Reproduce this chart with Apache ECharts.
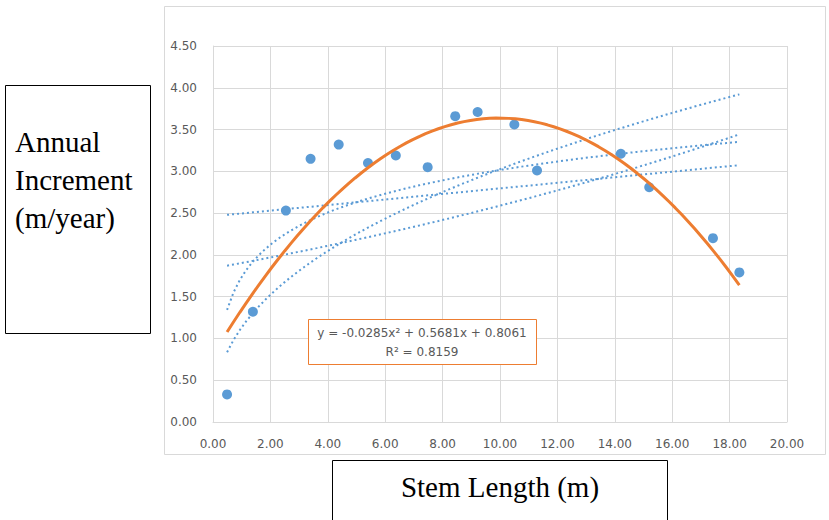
<!DOCTYPE html>
<html>
<head>
<meta charset="utf-8">
<script src="https://cdn.jsdelivr.net/npm/echarts@6/dist/echarts.min.js"></script>
<style>
html,body{margin:0;padding:0;background:#fff;}
#main{width:829px;height:520px;}
</style>
</head>
<body>
<div id="main"></div>
<script>
// 数据
var stemLength = [0.49, 1.39, 2.54, 3.40, 4.38, 5.40, 6.37, 7.48, 8.44, 9.22, 10.50, 11.29, 14.21, 15.20, 17.42, 18.34];
var increment  = [0.33, 1.32, 2.53, 3.15, 3.32, 3.10, 3.19, 3.05, 3.66, 3.71, 3.56, 3.01, 3.21, 2.81, 2.20, 1.79];

// 二次趋势线系数 a, b, c
var quadCoef = [-0.0285, 0.5681, 0.8061];
var eqLine1 = 'y = -0.0285x² + 0.5681x + 0.8061';
var eqLine2 = 'R² = 0.8159';

var yTitle = ['Annual', 'Increment', '(m/year)'];
var xTitle = 'Stem Length (m)';

var blue = '#5B9BD5';
var orange = '#ED7D31';

// 最小二乘 v = k*u + m
function lsq(u, v) {
    var n = u.length, su = 0, sv = 0, suu = 0, suv = 0;
    for (var i = 0; i < n; i++) {
        su += u[i]; sv += v[i]; suu += u[i] * u[i]; suv += u[i] * v[i];
    }
    var k = (n * suv - su * sv) / (n * suu - su * su);
    return [k, (sv - k * su) / n];
}

var lnx = stemLength.map(Math.log);
var lny = increment.map(Math.log);
var fLin = lsq(stemLength, increment);
var fExp = lsq(stemLength, lny);
var fLog = lsq(lnx, increment);
var fPow = lsq(lnx, lny);

var trends = [
    function (x) { return fLin[0] * x + fLin[1]; },
    function (x) { return Math.exp(fExp[1]) * Math.exp(fExp[0] * x); },
    function (x) { return fLog[0] * Math.log(x) + fLog[1]; },
    function (x) { return Math.exp(fPow[1]) * Math.pow(x, fPow[0]); }
];

var xMin = Math.min.apply(null, stemLength);
var xMax = Math.max.apply(null, stemLength);

function curve(f) {
    var pts = [];
    for (var i = 0; i <= 80; i++) {
        var x = xMin + (xMax - xMin) * i / 80;
        pts.push([x, f(x)]);
    }
    return pts;
}

var series = [{
    type: 'scatter',
    data: stemLength.map(function (x, i) { return [x, increment[i]]; }),
    symbolSize: 10,
    itemStyle: { color: blue, opacity: 1 },
    z: 2
}];

trends.forEach(function (f) {
    series.push({
        type: 'line',
        data: curve(f),
        showSymbol: false,
        smooth: false,
        lineStyle: { color: blue, width: 2, type: [2, 3] },
        z: 3
    });
});

series.push({
    type: 'line',
    data: curve(function (x) { return quadCoef[0] * x * x + quadCoef[1] * x + quadCoef[2]; }),
    showSymbol: false,
    lineStyle: { color: orange, width: 3 },
    z: 4
});

var serif = '29px "Liberation Serif"';
var graphic = [
    { type: 'rect', z: -5, shape: { x: 164.5, y: 6.5, width: 661, height: 448 },
      style: { fill: 'none', stroke: '#d9d9d9', lineWidth: 1 } },
    { type: 'rect', shape: { x: 5.5, y: 85.5, width: 145, height: 248 },
      style: { fill: '#fff', stroke: '#000', lineWidth: 1 } },
    { type: 'rect', shape: { x: 332.5, y: 460.5, width: 335, height: 80 },
      style: { fill: '#fff', stroke: '#000', lineWidth: 1 } },
    { type: 'text', x: 500, y: 487,
      style: { text: xTitle, font: serif, fill: '#000', textAlign: 'center', textVerticalAlign: 'middle' } },
    { type: 'rect', z: 10, shape: { x: 308.5, y: 319.5, width: 228, height: 45 },
      style: { fill: '#fff', stroke: orange, lineWidth: 1 } },
    { type: 'text', z: 11, x: 422, y: 333,
      style: { text: eqLine1, font: '12px "DejaVu Sans"', fill: '#595959', textAlign: 'center', textVerticalAlign: 'middle' } },
    { type: 'text', z: 11, x: 422, y: 352,
      style: { text: eqLine2, font: '12px "DejaVu Sans"', fill: '#595959', textAlign: 'center', textVerticalAlign: 'middle' } }
];
yTitle.forEach(function (t, i) {
    graphic.push({ type: 'text', x: 15, y: 142 + i * 38,
        style: { text: t, font: serif, fill: '#000', textAlign: 'left', textVerticalAlign: 'middle' } });
});

var chart = echarts.init(document.getElementById('main'), null, { renderer: 'svg' });
chart.setOption({
    backgroundColor: '#fff',
    animation: false,
    grid: { left: 213, right: 42, top: 46, bottom: 98 },
    xAxis: {
        type: 'value', min: 0, max: 20, interval: 2,
        axisLine: { show: true, lineStyle: { color: '#d9d9d9' } },
        axisTick: { show: false },
        axisLabel: { margin: 16, color: '#595959', fontSize: 12, fontFamily: 'DejaVu Sans',
            formatter: function (v) { return v.toFixed(2); } },
        splitLine: { show: true, lineStyle: { color: '#d9d9d9' } }
    },
    yAxis: {
        type: 'value', min: 0, max: 4.5, interval: 0.5,
        axisLine: { show: true, lineStyle: { color: '#d9d9d9' } },
        axisTick: { show: false },
        axisLabel: { margin: 16, color: '#595959', fontSize: 12, fontFamily: 'DejaVu Sans',
            formatter: function (v) { return v.toFixed(2); } },
        splitLine: { show: true, lineStyle: { color: '#d9d9d9' } }
    },
    graphic: graphic,
    series: series
});
</script>
</body>
</html>
